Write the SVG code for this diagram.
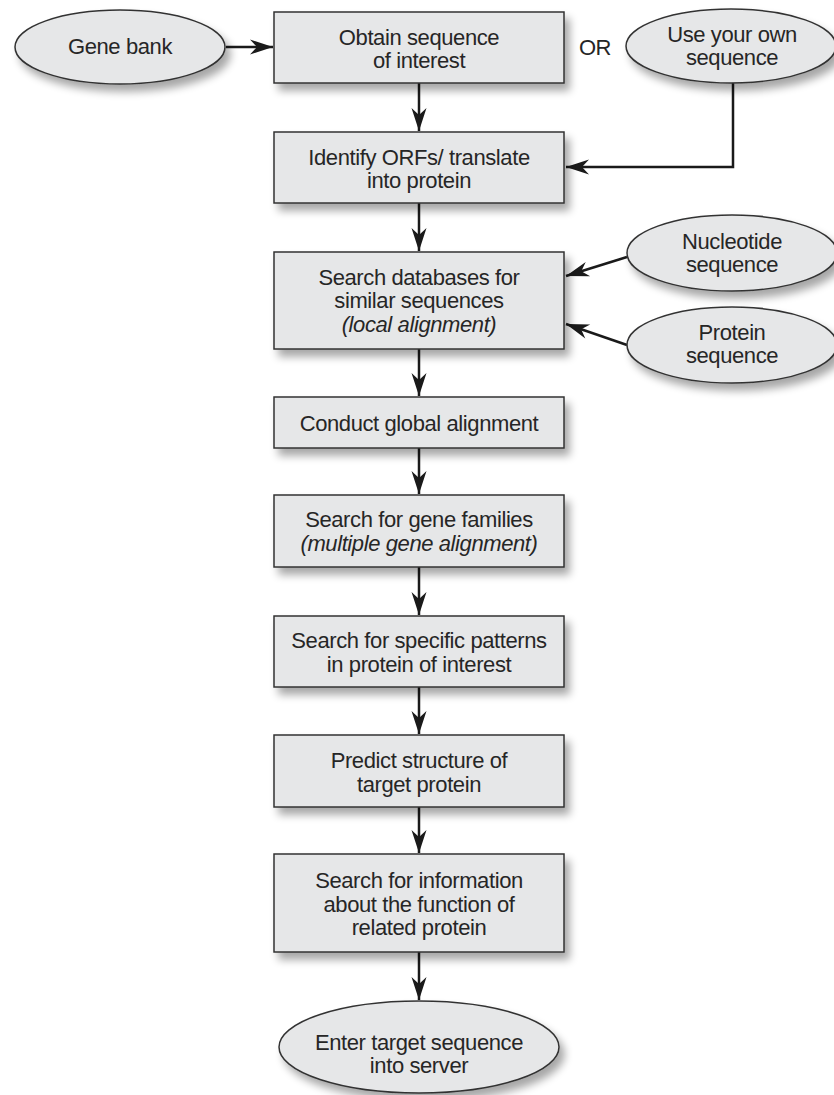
<svg xmlns="http://www.w3.org/2000/svg" width="834" height="1095" viewBox="0 0 834 1095">
  <defs>
    <filter id="shadow" x="-20%" y="-20%" width="150%" height="160%">
      <feGaussianBlur in="SourceAlpha" stdDeviation="4.5"/>
      <feOffset dx="5" dy="7" result="blur"/>
      <feComponentTransfer><feFuncA type="linear" slope="0.35"/></feComponentTransfer>
      <feMerge><feMergeNode/><feMergeNode in="SourceGraphic"/></feMerge>
    </filter>
    <marker id="arrow" markerUnits="userSpaceOnUse" markerWidth="26" markerHeight="18" viewBox="-24 -9 26 18" refX="0" refY="0" orient="auto">
      <path d="M0,0 L-23,-7.5 L-16,0 L-23,7.5 Z" fill="#1a1a1a"/>
    </marker>
    <style>
      .box { fill: #e6e7e8; stroke: #333333; stroke-width: 1.5; filter: url(#shadow); }
      .oval { fill: #e6e7e8; stroke: #333333; stroke-width: 1.5; filter: url(#shadow); }
      .t { font-family: "Liberation Sans", Arial, sans-serif; font-size: 22px; letter-spacing: -0.4px; fill: #262626; text-anchor: middle; }
      .i { font-style: italic; }
      .edge { fill: none; stroke: #1a1a1a; stroke-width: 2.5; marker-end: url(#arrow); }
    </style>
  </defs>

  <rect width="834" height="1095" fill="#ffffff"/>

  <!-- connectors -->
  <g id="connectors">
    <line class="edge" x1="226" y1="47" x2="273" y2="47"/>
    <polyline class="edge" points="733,83 733,167 566,167"/>
    <line class="edge" x1="419" y1="83" x2="419" y2="131"/>
    <line class="edge" x1="419" y1="203" x2="419" y2="251"/>
    <line class="edge" x1="627" y1="257" x2="566" y2="276"/>
    <line class="edge" x1="627" y1="345" x2="566" y2="324"/>
    <line class="edge" x1="419" y1="349" x2="419" y2="396"/>
    <line class="edge" x1="419" y1="448" x2="419" y2="494"/>
    <line class="edge" x1="419" y1="567" x2="419" y2="615"/>
    <line class="edge" x1="419" y1="687" x2="419" y2="734"/>
    <line class="edge" x1="419" y1="807" x2="419" y2="853"/>
    <line class="edge" x1="419" y1="952" x2="419" y2="1000"/>
  </g>

  <!-- source nodes -->
  <g id="gene-bank">
    <ellipse class="oval" cx="120" cy="47" rx="105" ry="37"/>
    <text class="t" x="120" y="54">Gene bank</text>
  </g>

  <text class="t" x="595" y="55">OR</text>

  <g id="own-sequence">
    <ellipse class="oval" cx="731" cy="46" rx="105" ry="37"/>
    <text class="t" x="732" y="42">Use your own</text>
    <text class="t" x="732" y="65">sequence</text>
  </g>

  <g id="nucleotide-sequence">
    <ellipse class="oval" cx="732" cy="253" rx="105" ry="38"/>
    <text class="t" x="732" y="249">Nucleotide</text>
    <text class="t" x="732" y="272">sequence</text>
  </g>

  <g id="protein-sequence">
    <ellipse class="oval" cx="732" cy="345" rx="105" ry="38"/>
    <text class="t" x="732" y="340">Protein</text>
    <text class="t" x="732" y="363">sequence</text>
  </g>

  <!-- workflow steps -->
  <g id="obtain-sequence">
    <rect class="box" x="274" y="12" width="290" height="71"/>
    <text class="t" x="419" y="45">Obtain sequence</text>
    <text class="t" x="419" y="68">of interest</text>
  </g>

  <g id="identify-orfs">
    <rect class="box" x="274" y="132" width="290" height="71"/>
    <text class="t" x="419" y="165">Identify ORFs/ translate</text>
    <text class="t" x="419" y="188">into protein</text>
  </g>

  <g id="search-databases">
    <rect class="box" x="274" y="252" width="290" height="97"/>
    <text class="t" x="419" y="285">Search databases for</text>
    <text class="t" x="419" y="308">similar sequences</text>
    <text class="t i" x="419" y="332">(local alignment)</text>
  </g>

  <g id="global-alignment">
    <rect class="box" x="274" y="397" width="290" height="51"/>
    <text class="t" x="419" y="431">Conduct global alignment</text>
  </g>

  <g id="gene-families">
    <rect class="box" x="274" y="495" width="290" height="72"/>
    <text class="t" x="419" y="527">Search for gene families</text>
    <text class="t i" x="419" y="551">(multiple gene alignment)</text>
  </g>

  <g id="specific-patterns">
    <rect class="box" x="274" y="616" width="290" height="71"/>
    <text class="t" x="419" y="648">Search for specific patterns</text>
    <text class="t" x="419" y="672">in protein of interest</text>
  </g>

  <g id="predict-structure">
    <rect class="box" x="274" y="735" width="290" height="72"/>
    <text class="t" x="419" y="768">Predict structure of</text>
    <text class="t" x="419" y="792">target protein</text>
  </g>

  <g id="function-info">
    <rect class="box" x="274" y="854" width="290" height="98"/>
    <text class="t" x="419" y="888">Search for information</text>
    <text class="t" x="419" y="912">about the function of</text>
    <text class="t" x="419" y="935">related protein</text>
  </g>

  <g id="enter-target">
    <ellipse class="oval" cx="419" cy="1047" rx="140" ry="46"/>
    <text class="t" x="419" y="1050">Enter target sequence</text>
    <text class="t" x="419" y="1073">into server</text>
  </g>
</svg>
